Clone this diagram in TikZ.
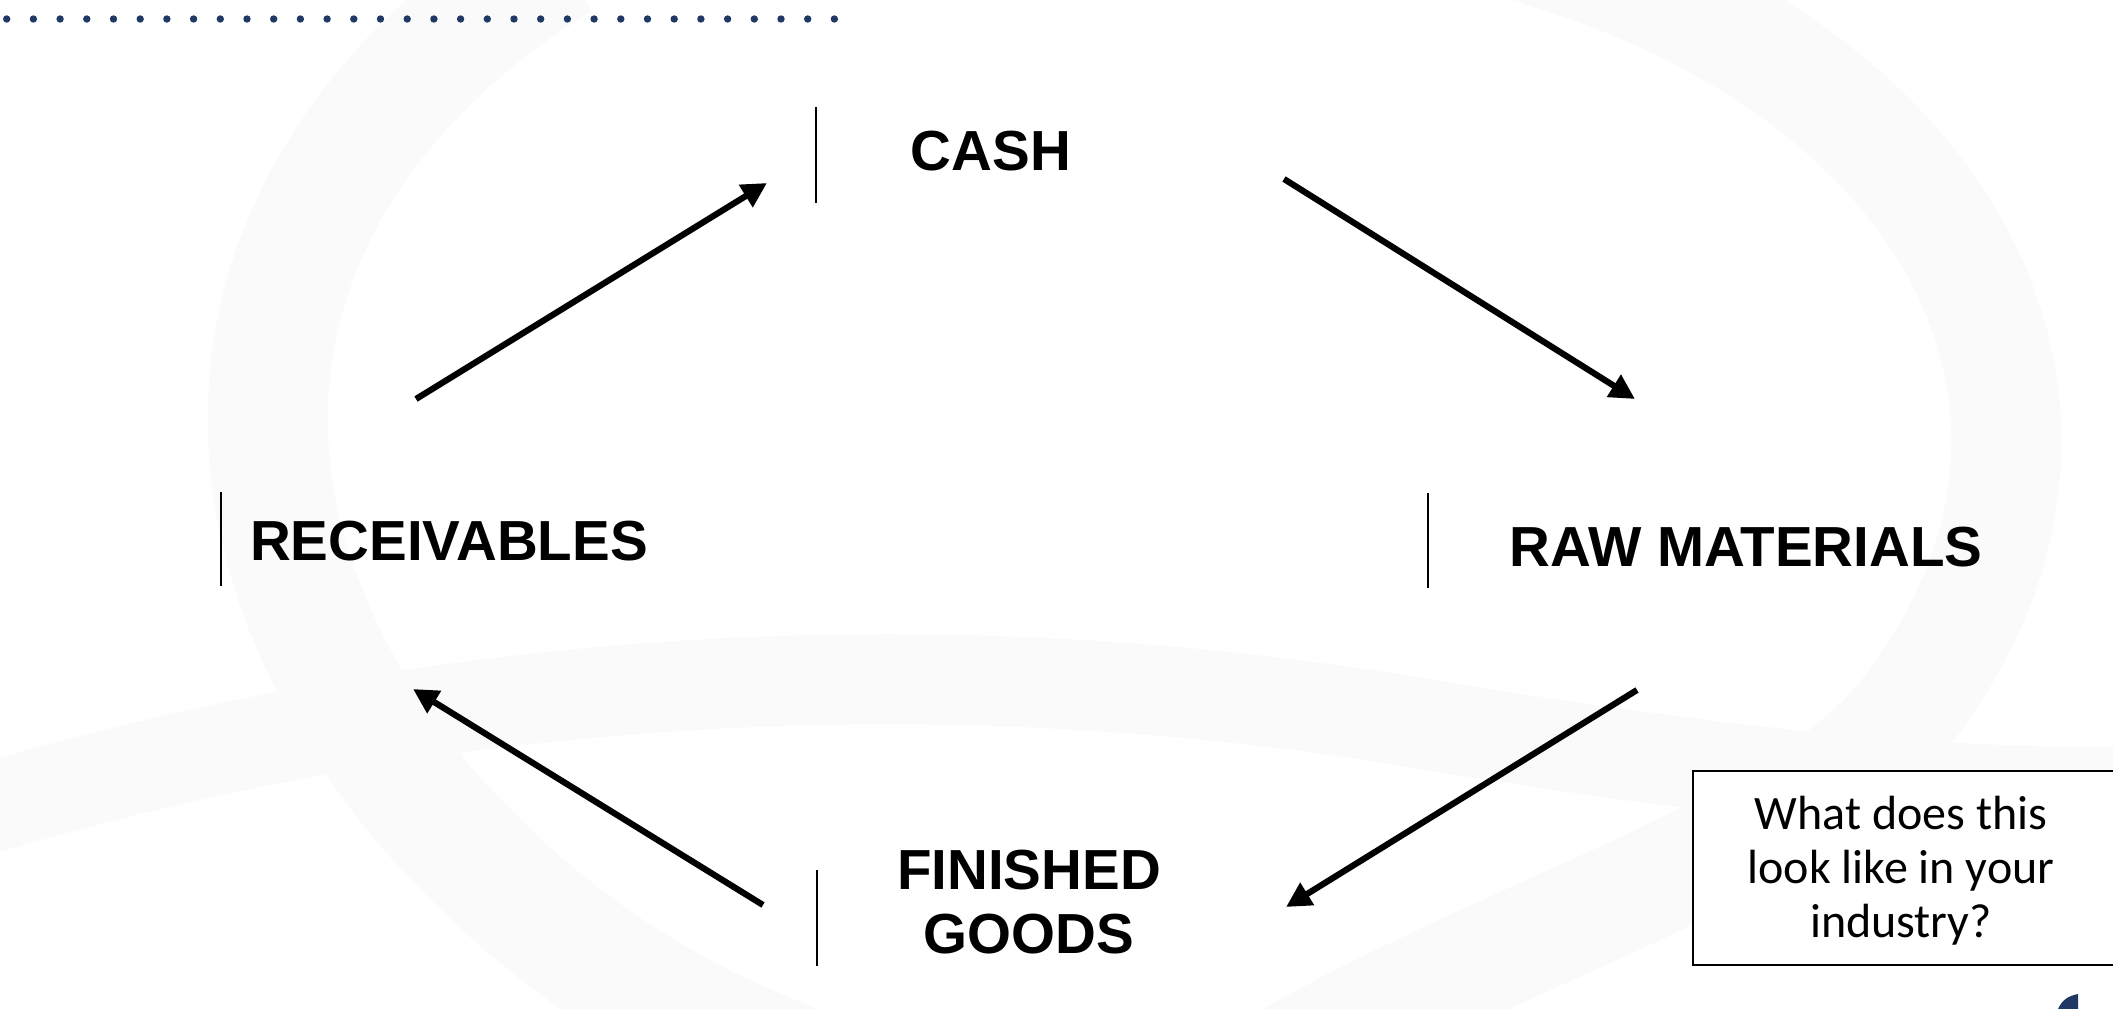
\documentclass[tikz,border=0pt]{standalone}
\usepackage{fontspec}
\setmainfont{Liberation Sans}
\newfontfamily\carlito{Carlito}
\usetikzlibrary{arrows.meta}

\definecolor{navy}{HTML}{1F3864}
\definecolor{wmark}{HTML}{FAFAFB}

\tikzset{
  stage/.style={font=\bfseries\fontsize{56.5}{64}\selectfont, align=center, inner sep=0pt, anchor=base},
  framebar/.style={draw=black, line width=2.8pt},
  flow/.style={draw=black, line width=6.2pt, -{Triangle[length=25pt,width=25pt]}},
  askbox/.style={draw=black, fill=white, line width=2.4pt},
  dot/.style={fill=navy, draw=none},
  watermark/.style={draw=wmark},
}

\begin{document}
\begin{tikzpicture}[x=1pt, y=-1pt]
  \useasboundingbox (0,0) rectangle (2113,1009);
  \fill[white] (0,0) rectangle (2113,1009);

  \begin{scope}
    \clip (0,0) rectangle (2113,1009);
    % faint swirl in the background
    \draw[watermark, line width=110pt] (1500,-60) .. controls (1960,60) and (2140,420) .. (1900,720)
                                             .. controls (1780,860) and (1500,930) .. (1250,1080);
    \draw[watermark, line width=120pt] (560,-40) .. controls (250,150) and (160,480) .. (420,800)
                                            .. controls (560,960) and (700,1040) .. (900,1100);
    \draw[watermark, line width=90pt] (-50,820) .. controls (400,680) and (900,640) .. (1400,720)
                                             .. controls (1700,770) and (1950,800) .. (2200,790);

    % question box, running off the right edge
    \draw[askbox] (1693,771) rectangle (2130,965);

    % corner mark
    \fill[navy] (2058,1009) .. controls (2062,1000) and (2068,996) .. (2078,994) -- (2078,1009) -- cycle;
  \end{scope}

  % dotted rule at the top
  \foreach \i in {0,...,31}
    \fill[dot] ({6.7+26.7*\i},19) circle (3.7pt);

  % stage labels
  \node[stage] (cash) at (991,170) {CASH};
  \node[stage] (recv) at (449,560) {RECEIVABLES};
  \node[stage] (raw)  at (1746,566) {RAW MATERIALS};
  \node[stage] (fin)  at (1029,953) {FINISHED\\GOODS};

  % left edges of the label frames
  \draw[framebar] (816,107) -- (816,203);
  \draw[framebar] (221,492) -- (221,586);
  \draw[framebar] (1428,493) -- (1428,588);
  \draw[framebar] (817,870) -- (817,966);

  % arrow end points
  \coordinate (recv-out) at (416,399);
  \coordinate (cash-in)  at (767,183);
  \coordinate (cash-out) at (1284,179);
  \coordinate (raw-in)   at (1635,399);
  \coordinate (raw-out)  at (1637,690);
  \coordinate (fin-in)   at (1286,907);
  \coordinate (fin-out)  at (763,905);
  \coordinate (recv-in)  at (413,689);

  \draw[flow] (recv-out) -- (cash-in);
  \draw[flow] (cash-out) -- (raw-in);
  \draw[flow] (raw-out) -- (fin-in);
  \draw[flow] (fin-out) -- (recv-in);

  % question
  \node[font=\carlito\fontsize{48}{54}\selectfont, align=center, inner sep=0pt] (ask) at (1901,871)
    {What does this\\look like in your\\industry?};
\end{tikzpicture}
\end{document}
